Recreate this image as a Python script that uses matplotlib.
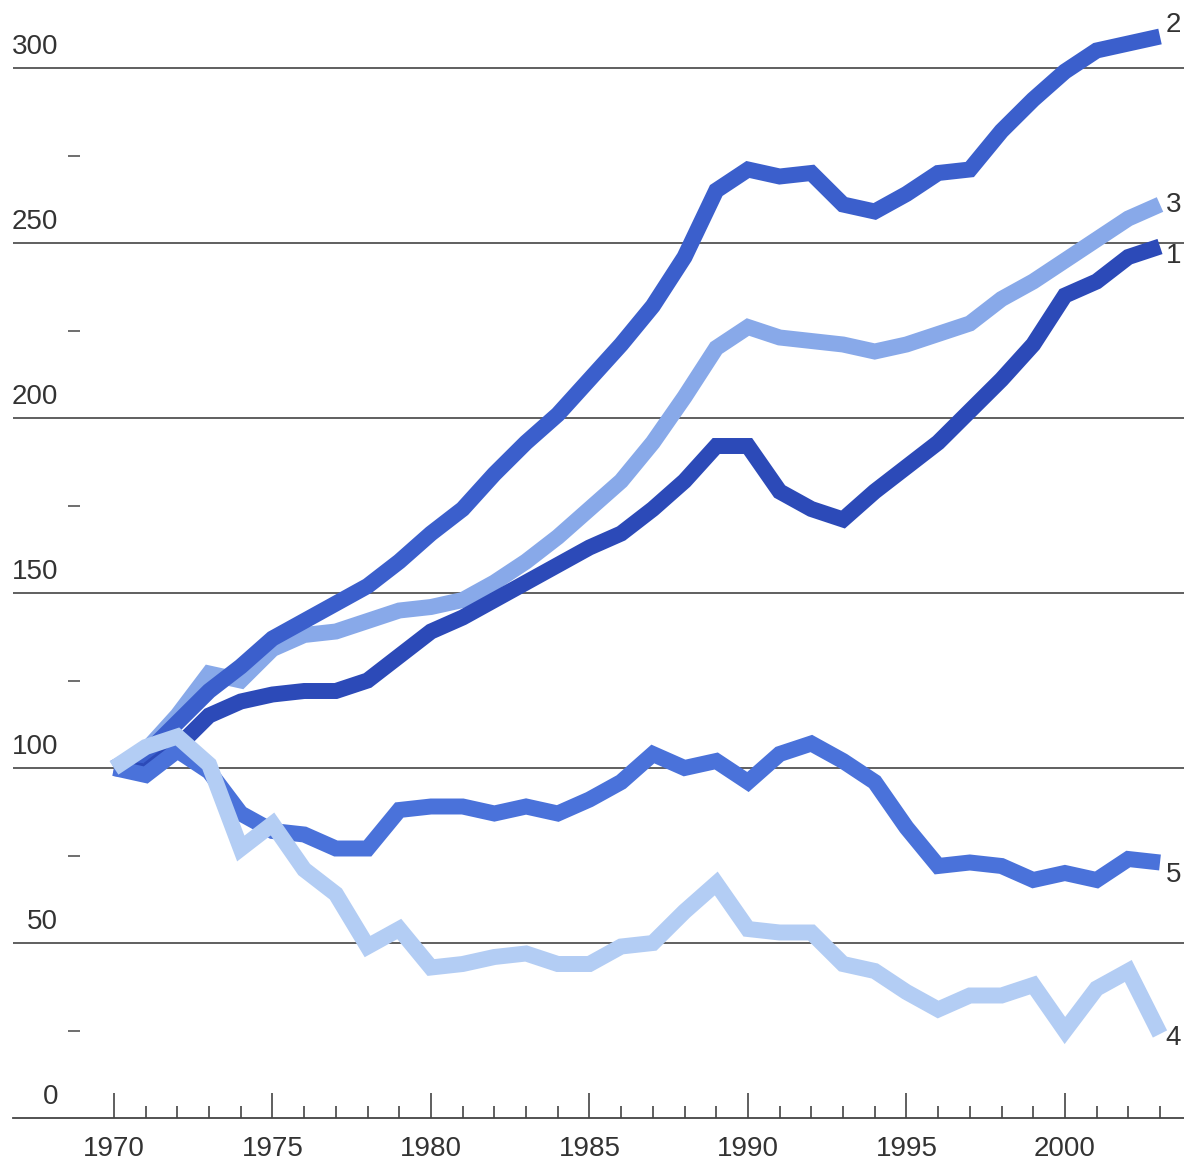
import matplotlib.pyplot as plt

years = list(range(1970, 2004))

# index series, 1970 = 100
s1 = [100, 99, 106, 115, 119, 121, 122, 122, 125, 132, 139, 143, 148, 153, 158, 163,
      167, 174, 182, 192, 192, 179, 174, 171, 179, 186, 193, 202, 211, 221, 235, 239,
      246, 249]
s2 = [100, 104, 113, 122, 129, 137, 142, 147, 152, 159, 167, 174, 184, 193, 201, 211,
      221, 232, 246, 265, 271, 269, 270, 261, 259, 264, 270, 271, 282, 291, 299, 305,
      307, 309]
s3 = [100, 105, 115, 127, 125, 134, 138, 139, 142, 145, 146, 148, 153, 159, 166, 174,
      182, 193, 206, 220, 226, 223, 222, 221, 219, 221, 224, 227, 234, 239, 245, 251,
      257, 261]
s4 = [100, 106, 109, 101, 77, 84, 71, 64, 49, 54, 43, 44, 46, 47, 44, 44,
      49, 50, 59, 67, 54, 53, 53, 44, 42, 36, 31, 35, 35, 38, 25, 37,
      42, 24]
s5 = [100, 98, 105, 99, 87, 82, 81, 77, 77, 88, 89, 89, 87, 89, 87, 91,
      96, 104, 100, 102, 96, 104, 107, 102, 96, 83, 72, 73, 72, 68, 70, 68,
      74, 73]

series_labels = ['3', '2', '1', '5', '4']
series_values = [s3, s2, s1, s5, s4]
series_colors = ['#88a9e9', '#3b5fcc', '#2c4ab8', '#4a72da', '#b3cdf4']
label_dy = [0, 8, -7, -9, -3]  # nudge for end labels, points

grid_vals = [50, 100, 150, 200, 250, 300]
minor_vals = [25, 75, 125, 175, 225, 275]

W, H = 1184, 1164
fig = plt.figure(figsize=(W / 100, H / 100), dpi=100)
plt.rcParams['font.family'] = ['Liberation Sans', 'DejaVu Sans']

left_px, base_px = 13, 1118
ax = fig.add_axes([left_px / W, (H - base_px) / H, (W - left_px) / W, base_px / H])
px_year = (1160 - 114) / 33.0
px_unit = (1118 - 68) / 300.0
ax.set_xlim(1970 - (114 - left_px) / px_year, 2003 + (W - 1160) / px_year)
ax.set_ylim(0, base_px / px_unit)

for sp in ['top', 'right', 'left']:
    ax.spines[sp].set_visible(False)
ax.spines['bottom'].set_color('#444444')
ax.spines['bottom'].set_linewidth(1.3)

# grid lines
for v in grid_vals:
    ax.axhline(v, color='#444444', lw=1.2, zorder=1)

# y labels sit above the grid lines
for v in [0] + grid_vals:
    ax.annotate(str(v), xy=(0.0384, v), xycoords=ax.get_yaxis_transform(),
                xytext=(0, 6), textcoords='offset points',
                ha='right', va='bottom', fontsize=20, color='#333333')
ax.hlines(minor_vals, 0.047, 0.057, transform=ax.get_yaxis_transform(),
          color='#555555', lw=1.2)

ax.set_yticks([])
ax.set_xticks(range(1970, 2001, 5))
ax.set_xticks(years, minor=True)
ax.tick_params(axis='x', which='major', direction='in', length=18, width=1.2,
               color='#444444', pad=13, labelsize=20, labelcolor='#333333')
ax.tick_params(axis='x', which='minor', direction='in', length=9, width=1.2,
               color='#444444')

for name, vals, col, dy in zip(series_labels, series_values, series_colors, label_dy):
    ax.plot(years, vals, color=col, lw=11.5, solid_capstyle='butt',
            solid_joinstyle='miter', zorder=3)
    ax.annotate(name, xy=(years[-1], vals[-1]), xytext=(4, dy),
                textcoords='offset points', ha='left', va='center',
                fontsize=20, color='#333333')

fig.savefig('out.png', dpi=100)
